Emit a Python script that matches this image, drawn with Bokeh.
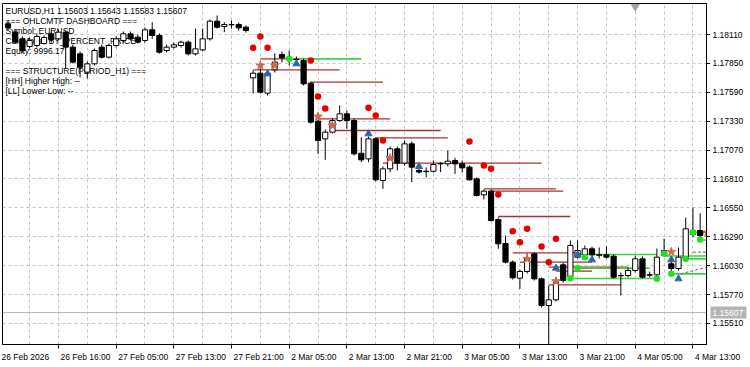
from bokeh.plotting import figure
from bokeh.layouts import column, row
from bokeh.models import Range1d, FixedTicker
from bokeh.core.properties import value
from bokeh.embed import file_html
from bokeh.resources import INLINE

# ---------------- data ----------------
bars = list(range(1, 98))
opens = [1.18206, 1.18131, 1.18071, 1.18002, 1.18011, 1.18029, 1.18116, 1.18071, 1.18131, 1.17996,
         1.17936, 1.17771, 1.17846, 1.17996, 1.17906, 1.18011, 1.18056, 1.18116, 1.18086, 1.18056,
         1.18152, 1.18101, 1.17966, 1.17996, 1.18011, 1.18041, 1.17936, 1.17972, 1.18071, 1.18230,
         1.18182, 1.18200, 1.18200, 1.18176, 1.17720, 1.17762, 1.17582, 1.17792, 1.17930, 1.17900,
         1.17885, 1.17876, 1.17672, 1.17330, 1.17171, 1.17231, 1.17336, 1.17396, 1.17336, 1.17041,
         1.16991, 1.17171, 1.16796, 1.16901, 1.17081, 1.16952, 1.17126, 1.16886, 1.16879, 1.16879,
         1.16949, 1.16946, 1.16976, 1.16946, 1.16916, 1.16811, 1.16667, 1.16700, 1.16445, 1.16229,
         1.16061, 1.15917, 1.15977, 1.16136, 1.15911, 1.15671, 1.15722, 1.16037, 1.15932, 1.16106,
         1.16127, 1.16181, 1.16127, 1.16127, 1.16115, 1.15941, 1.15941, 1.15986, 1.16091, 1.15947,
         1.15947, 1.16121, 1.16046, 1.16004, 1.16091, 1.16346, 1.16346]
highs = [1.18236, 1.18155, 1.18092, 1.18083, 1.18119, 1.18101, 1.18137, 1.18155, 1.18146, 1.18020,
         1.17957, 1.17867, 1.17984, 1.18020, 1.18029, 1.18092, 1.18137, 1.18137, 1.18110, 1.18173,
         1.18221, 1.18119, 1.18020, 1.18038, 1.18056, 1.18056, 1.18164, 1.18164, 1.18245, 1.18281,
         1.18221, 1.18236, 1.18218, 1.18191, 1.17786, 1.17804, 1.17786, 1.17939, 1.17957, 1.17966,
         1.17912, 1.17894, 1.17687, 1.17345, 1.17255, 1.17354, 1.17471, 1.17426, 1.17354, 1.17186,
         1.17192, 1.17183, 1.16922, 1.17102, 1.17102, 1.17156, 1.17147, 1.16904, 1.16913, 1.16976,
         1.16961, 1.17066, 1.17000, 1.16976, 1.16931, 1.16823, 1.16715, 1.16715, 1.16463, 1.16301,
         1.16076, 1.15995, 1.16139, 1.16148, 1.15923, 1.15851, 1.15905, 1.16058, 1.16256, 1.16256,
         1.16211, 1.16202, 1.16193, 1.16202, 1.16130, 1.15968, 1.16013, 1.16121, 1.16112, 1.15975,
         1.16184, 1.16274, 1.16076, 1.16193, 1.16463, 1.16553, 1.16499]
lows = [1.18146, 1.18029, 1.17948, 1.17984, 1.17993, 1.18020, 1.18038, 1.18056, 1.17804, 1.17849,
        1.17723, 1.17714, 1.17831, 1.17894, 1.17894, 1.17993, 1.18038, 1.18056, 1.18029, 1.18038,
        1.18071, 1.17939, 1.17948, 1.17984, 1.17993, 1.17921, 1.17921, 1.17957, 1.18056, 1.18164,
        1.18131, 1.18164, 1.18146, 1.18128, 1.17579, 1.17579, 1.17561, 1.17768, 1.17858, 1.17831,
        1.17867, 1.17651, 1.17309, 1.17036, 1.16982, 1.17219, 1.17327, 1.17261, 1.17021, 1.16961,
        1.16961, 1.16787, 1.16721, 1.16871, 1.16886, 1.16931, 1.16781, 1.16859, 1.16823, 1.16868,
        1.16871, 1.16922, 1.16856, 1.16868, 1.16796, 1.16652, 1.16625, 1.16427, 1.16181, 1.16049,
        1.15905, 1.15821, 1.15959, 1.15896, 1.15653, 1.15320, 1.15707, 1.15878, 1.15914, 1.16094,
        1.16112, 1.16112, 1.16094, 1.16094, 1.15914, 1.15761, 1.15923, 1.15968, 1.15914, 1.15923,
        1.15932, 1.16112, 1.15968, 1.15986, 1.16076, 1.16283, 1.16274]
closes = [1.18170, 1.18041, 1.17966, 1.18056, 1.18092, 1.18083, 1.18062, 1.18131, 1.17996, 1.17861,
          1.17816, 1.17846, 1.17966, 1.17906, 1.18011, 1.18071, 1.18116, 1.18071, 1.18041, 1.18152,
          1.18101, 1.17951, 1.17996, 1.18017, 1.18041, 1.17936, 1.17981, 1.18071, 1.18230, 1.18176,
          1.18200, 1.18197, 1.18170, 1.18146, 1.17762, 1.17591, 1.17762, 1.17861, 1.17900, 1.17903,
          1.17888, 1.17666, 1.17321, 1.17156, 1.17231, 1.17336, 1.17396, 1.17336, 1.17036, 1.16982,
          1.17171, 1.16802, 1.16901, 1.17081, 1.16952, 1.17126, 1.16916, 1.16872, 1.16876, 1.16940,
          1.16946, 1.16970, 1.16946, 1.16910, 1.16802, 1.16661, 1.16700, 1.16436, 1.16226, 1.16061,
          1.15920, 1.15977, 1.16091, 1.15911, 1.15671, 1.15722, 1.15881, 1.15896, 1.16211, 1.16166,
          1.16181, 1.16127, 1.16124, 1.16106, 1.15926, 1.15938, 1.15986, 1.16091, 1.15926, 1.15944,
          1.16106, 1.16166, 1.16004, 1.16106, 1.16361, 1.16310, 1.16301]

time_label_bars = [0, 8, 16, 24, 32, 40, 48, 56, 64, 72, 80, 88, 96]
time_labels = ["26 Feb 2026", "26 Feb 16:00", "27 Feb 05:00", "27 Feb 13:00", "27 Feb 21:00",
               "2 Mar 05:00", "2 Mar 13:00", "2 Mar 21:00", "3 Mar 05:00", "3 Mar 13:00",
               "3 Mar 21:00", "4 Mar 05:00", "4 Mar 13:00"]
grid_bars = [4, 8, 12, 16, 20, 24, 28, 32, 36, 40, 44, 48, 52, 56, 60, 64, 68, 72, 76, 80, 84, 88, 92, 96]
price_ticks = [1.15510, 1.15770, 1.16030, 1.16290, 1.16550, 1.16810, 1.17070, 1.17330, 1.17590,
               1.17850, 1.18110]
price_labels = ["1.15510", "1.15770", "1.16030", "1.16290", "1.16550", "1.16810", "1.17070",
                "1.17330", "1.17590", "1.17850", "1.18110"]

red_x = [35, 36, 37, 43, 44, 45, 51, 52, 53, 65, 67, 68, 69, 71, 72, 73, 75, 76, 77]
red_y = [1.17990, 1.18092, 1.17990, 1.17876, 1.17552, 1.17444, 1.17450, 1.17381, 1.17156, 1.17147,
         1.16931, 1.16901, 1.16670, 1.16340, 1.16241, 1.16361, 1.16202, 1.16061, 1.16271]
green_x = [40, 79, 80, 81, 91, 92, 93, 95, 96, 97]
green_y = [1.17891, 1.15917, 1.16007, 1.16106, 1.15911, 1.16139, 1.15956, 1.16091, 1.16331, 1.16265]
blue_x = [37, 41, 51, 58, 77, 80, 82, 93, 94]
blue_y = [1.17756, 1.17846, 1.17216, 1.16922, 1.16007, 1.16127, 1.16082, 1.16082, 1.15911]
star_x = [36, 38, 44, 46, 54, 73, 77, 93, 98]
star_y = [1.17831, 1.17831, 1.17372, 1.17291, 1.16997, 1.16091, 1.15890, 1.16154, 1.16328]

brown_x0 = [35, 36, 43, 44, 46, 52, 53, 67, 68, 69, 71, 72, 76, 77, 76]
brown_x1 = [47, 40, 53, 54, 61, 62, 75, 77, 78, 79, 80, 82, 87, 82, 86]
brown_y = [1.17792, 1.17891, 1.17681, 1.17351, 1.17246, 1.17180, 1.16952, 1.16721, 1.16700, 1.16472,
           1.16145, 1.16061, 1.16016, 1.15980, 1.15857]
gline_x0 = [40, 80, 92, 80, 79, 93, 95, 96, 97]
gline_x1 = [50, 91, 98, 90, 91, 98, 98, 98, 98]
gline_y = [1.17891, 1.16130, 1.16116, 1.16007, 1.15914, 1.15956, 1.16091, 1.16328, 1.16260]
dash_x0 = [94.3, 96.0]
dash_x1 = [98.0, 98.0]
dash_y0 = [1.15956, 1.16151]
dash_y1 = [1.16016, 1.16151]

bid_price = 1.15607
bid_label = "1.15607"
shift_bar = 88
header_lines = ["EURUSD,H1  1.15603 1.15643 1.15583 1.15607",
                "=== OHLCMTF DASHBOARD ===",
                "Symbol: EURUSD",
                "CalcMode: BY_PERCENT_PRICE",
                "Equity: 9996.17",
                "=== STRUCTURE(PERIOD_H1) ===",
                "[HH] Higher High: --",
                "[LL] Lower Low: --"]
header_rows = [0, 1, 2, 3, 4, 6, 7, 8]

# ---------------- layout ----------------
W, H = 750, 367
FR_L, FR_R, FR_T, FR_B = 2, 706, 3, 344       # chart frame in page pixels
SCALE_W = 40                                   # price-scale strip width
XR0, XR1 = 0.236, 97.88
YR0, YR1 = 1.15320, 1.18389
FONT = "Liberation Sans"
FS = "8.5px"

xr = Range1d(XR0, XR1)
yr = Range1d(YR0, YR1)
main_h = FR_B + 5

p = figure(width=W - SCALE_W, height=main_h, x_range=xr, y_range=yr,
           output_backend="svg", toolbar_location=None, y_axis_location="right",
           min_border_left=FR_L, min_border_top=FR_T,
           min_border_right=W - SCALE_W - FR_R, min_border_bottom=main_h - FR_B,
           background_fill_color="white", border_fill_color="white",
           outline_line_color="black")

# grid
p.xgrid.ticker = FixedTicker(ticks=grid_bars)
p.ygrid.ticker = FixedTicker(ticks=price_ticks)
for g in (p.xgrid, p.ygrid):
    g.grid_line_color = "#c4c4c4"
    g.grid_line_dash = "3 3"
    g.grid_line_width = 1

# axes: tick marks only (labels are set in the strips, left-aligned like the terminal)
p.xaxis.ticker = FixedTicker(ticks=[], minor_ticks=time_label_bars[1:])
p.xaxis.minor_tick_out = 4
p.xaxis.minor_tick_in = 0
p.xaxis.minor_tick_line_color = "black"
p.xaxis.major_tick_line_color = None
p.xaxis.major_tick_out = 0
p.xaxis.major_label_standoff = 0
p.xaxis.axis_line_color = "black"

p.yaxis.ticker = FixedTicker(ticks=price_ticks)
p.yaxis.major_label_overrides = {t: "" for t in price_ticks}
p.yaxis.major_label_standoff = 0
p.yaxis.major_tick_in = 0
p.yaxis.major_tick_out = 4
p.yaxis.minor_tick_line_color = None
p.yaxis.axis_line_color = "black"

# header text (behind the candles)
ppp = (YR1 - YR0) / (FR_B - FR_T)
hy = [YR1 - (7 + 10 * r) * ppp for r in header_rows]
p.text(x=[XR0] * len(header_lines), y=hy, text=header_lines, x_offset=3,
       text_baseline="middle", text_align="left", text_font=value(FONT),
       text_font_size=FS, text_color="black")

# bid line
p.line(x=[XR0, XR1], y=[bid_price, bid_price], line_color="#b4b4b4", line_width=1)

# structure lines
p.segment(x0=brown_x0, y0=brown_y, x1=brown_x1, y1=brown_y, line_color="#a8322e", line_width=1.4)
p.segment(x0=gline_x0, y0=gline_y, x1=gline_x1, y1=gline_y, line_color="#3fd23f", line_width=1.6)
p.segment(x0=dash_x0, y0=dash_y0, x1=dash_x1, y1=dash_y1, line_color="#5a6a7a", line_width=1,
          line_dash="3 2")

# candles
up = [c >= o for o, c in zip(opens, closes)]
tops = [max(o, c) for o, c in zip(opens, closes)]
bots = [min(o, c) for o, c in zip(opens, closes)]
fills = ["white" if u else "black" for u in up]
p.segment(x0=bars, y0=lows, x1=bars, y1=highs, line_color="black", line_width=1)
p.vbar(x=bars, width=0.72, top=tops, bottom=bots, fill_color=fills, line_color="black", line_width=1)

# markers
p.scatter(x=red_x, y=red_y, marker="circle", size=6.5, fill_color="#e60000", line_color=None)
p.scatter(x=green_x, y=green_y, marker="circle", size=6.5, fill_color="#22e022", line_color=None)
p.scatter(x=blue_x, y=blue_y, marker="triangle", size=7, fill_color="#2a66aa", line_color="#2a66aa")
p.scatter(x=star_x, y=star_y, marker="star", size=9, fill_color="#cf6a48", line_color="#cf6a48")
p.scatter(x=[shift_bar], y=[YR1 - 3 * ppp], marker="inverted_triangle", size=8,
          fill_color="#a0a0a0", line_color="#a0a0a0")

# ---------------- price scale strip (shares the y range) ----------------
ps = figure(width=SCALE_W, height=main_h, x_range=Range1d(0, SCALE_W), y_range=yr,
            output_backend="svg", toolbar_location=None,
            x_axis_location=None, y_axis_location=None,
            min_border_left=0, min_border_right=0, min_border_top=FR_T,
            min_border_bottom=main_h - FR_B, outline_line_color=None,
            background_fill_color="white", border_fill_color="white")
ps.grid.visible = False
ps.text(x=[2] * len(price_ticks), y=price_ticks, text=price_labels, text_align="left",
        text_baseline="middle", text_font=value(FONT), text_font_size=FS, text_color="black")
ps.rect(x=[17], y=[bid_price], width=38, height=12, height_units="screen",
        fill_color="#b4b4b4", line_color=None)
ps.text(x=[2], y=[bid_price], text=[bid_label], text_align="left", text_baseline="middle",
        text_font=value(FONT), text_font_size=FS, text_color="white")

# ---------------- time scale strip (same bar spacing as the chart) ----------------
pxb = (FR_R - FR_L) / (XR1 - XR0)
ts_h = H - main_h
ts = figure(width=W, height=ts_h,
            x_range=Range1d(XR0 - FR_L / pxb, XR0 + (W - FR_L) / pxb), y_range=Range1d(0, ts_h),
            output_backend="svg", toolbar_location=None,
            x_axis_location=None, y_axis_location=None,
            min_border_left=0, min_border_right=0, min_border_top=0, min_border_bottom=0,
            outline_line_color=None, background_fill_color="white", border_fill_color="white")
ts.grid.visible = False
tx = [XR0 if b == 0 else b for b in time_label_bars]
toff = [-1 if b == 0 else 2 for b in time_label_bars]
ts.text(x=tx, y=[ts_h - 2] * len(tx), text=time_labels, x_offset=toff, text_align="left",
        text_baseline="top", text_font=value(FONT), text_font_size=FS, text_color="black")

layout = column(row(p, ps), ts)
open("out.html", "w").write(file_html(layout, INLINE))
